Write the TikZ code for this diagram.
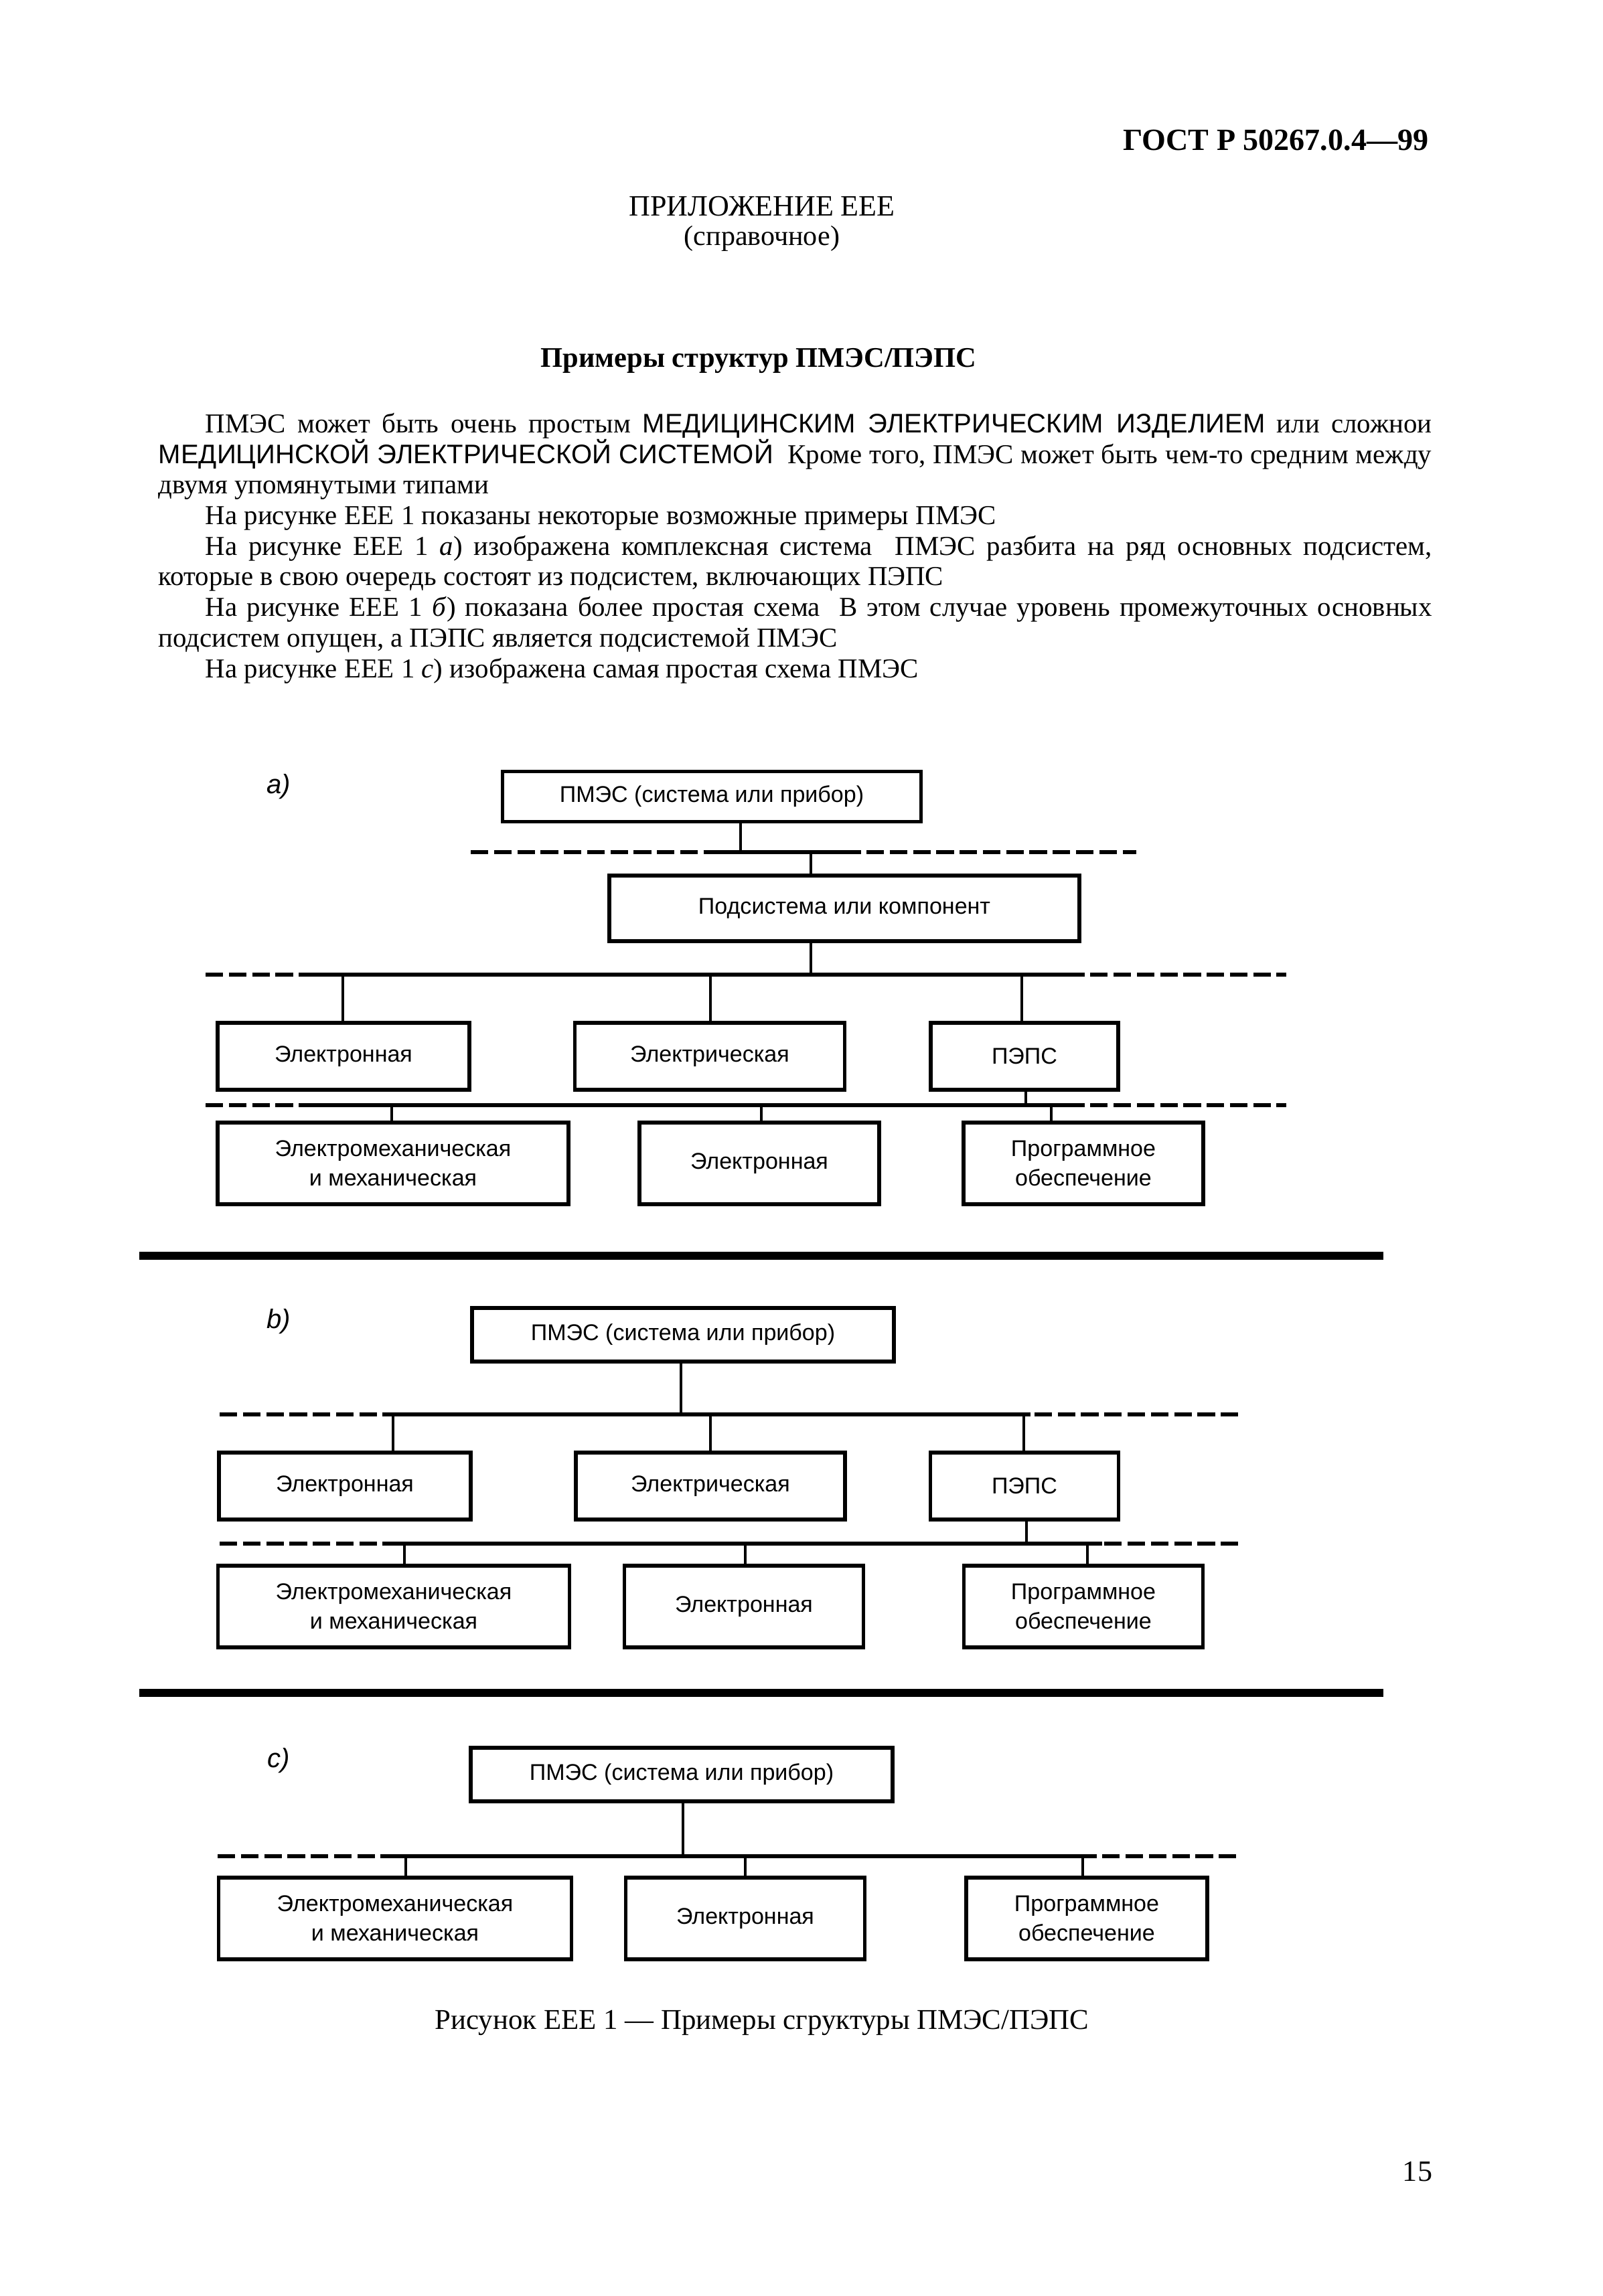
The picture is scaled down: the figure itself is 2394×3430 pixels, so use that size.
\documentclass[tikz,border=0pt]{standalone}
\usepackage{fontspec}
\setmainfont{Liberation Serif}
\setsansfont{Liberation Sans}
\newcommand{\PX}{0.08772mm}
\newcommand{\capsf}[1]{{\sffamily\fontsize{10}{12}\selectfont #1}}
\tikzset{
  box/.style={draw, line width=1.4pt, inner sep=0pt, align=center,
    font=\sffamily\fontsize{8.5}{11}\selectfont},
  sz/.style 2 args={minimum width={#1*\PX}, minimum height={#2*\PX}},
  conn/.style={line width=1.1pt},
  busd/.style={line width=1.6pt, dash pattern=on 2.3mm off 0.75mm},
  buss/.style={line width=1.6pt},
  sep/.style={line width=2.8pt},
  body/.style={inner sep=0pt, font=\fontsize{10.2}{12.6}\selectfont},
  lbl/.style={inner sep=0pt, font=\sffamily\itshape\fontsize{10}{12}\selectfont}
}
\begin{document}
\begin{tikzpicture}[x=0.08772mm, y=-0.08772mm]
\fill[white] (0,0) rectangle (2394,3430);
\useasboundingbox (0,0) rectangle (2394,3430);

% header texts
\node[anchor=base east, inner sep=0pt, font=\bfseries\fontsize{11.5}{14}\selectfont] (hdr) at (2134,224) {ГОСТ Р 50267.0.4—99};
\node[anchor=base, inner sep=0pt, font=\fontsize{11}{13}\selectfont] (app) at (1138,322) {ПРИЛОЖЕНИЕ ЕЕЕ};
\node[anchor=base, inner sep=0pt, font=\fontsize{10.5}{13}\selectfont] (ref) at (1138,366) {(справочное)};
\node[anchor=base, inner sep=0pt, font=\bfseries\fontsize{10.6}{13}\selectfont] (ttl) at (1133,548) {Примеры структур ПМЭС/ПЭПС};

% paragraph
\node[body, anchor=base west] (l1) at (306,646) {\makebox[160.7mm][s]{ПМЭС может быть очень простым \capsf{МЕДИЦИНСКИМ ЭЛЕКТРИЧЕСКИМ ИЗДЕЛИЕМ} или сложнои}};
\node[body, anchor=base west] (l2) at (236,692) {\makebox[166.8mm][s]{\capsf{МЕДИЦИНСКОЙ ЭЛЕКТРИЧЕСКОЙ СИСТЕМОЙ}\ \ Кроме того, ПМЭС может быть чем-то средним между}};
\node[body, anchor=base west] (l3) at (236,737) {двумя упомянутыми типами};
\node[body, anchor=base west] (l4) at (306,783) {На рисунке ЕЕЕ 1 показаны некоторые возможные примеры ПМЭС};
\node[body, anchor=base west] (l5) at (306,829) {\makebox[160.7mm][s]{На рисунке ЕЕЕ 1 \textit{а}) изображена комплексная система\ \ ПМЭС разбита на ряд основных подсистем,}};
\node[body, anchor=base west] (l6) at (236,874) {которые в свою очередь состоят из подсистем, включающих ПЭПС};
\node[body, anchor=base west] (l7) at (306,920) {\makebox[160.7mm][s]{На рисунке ЕЕЕ 1 \textit{б}) показана более простая схема\ \ В этом случае уровень промежуточных основных}};
\node[body, anchor=base west] (l8) at (236,966) {подсистем опущен, а ПЭПС является подсистемой ПМЭС};
\node[body, anchor=base west] (l9) at (306,1012) {На рисунке ЕЕЕ 1 \textit{с}) изображена самая простая схема ПМЭС};

% ---------------- diagram a ----------------
\node[lbl] (la) at (416,1175) {a)};
\node[box, sz={625}{75}] (aP) at (1063,1190) {ПМЭС (система или прибор)};
\node[box, sz={702}{98}] (aS) at (1261,1357) {Подсистема или компонент};
\node[box, sz={376}{100}] (aE1) at (513,1578) {Электронная};
\node[box, sz={403}{100}] (aE2) at (1060,1578) {Электрическая};
\node[box, sz={280}{100}] (aPE) at (1530,1578) {ПЭПС};
\node[box, sz={524}{122}] (aM) at (587,1738) {Электромеханическая\\и механическая};
\node[box, sz={358}{122}] (aEl) at (1134,1738) {Электронная};
\node[box, sz={358}{122}] (aPO) at (1618,1738) {Программное\\обеспечение};

\coordinate (a1L) at (703,1273); \coordinate (a1R) at (1697,1273);
\coordinate (a1SL) at (1055,1273); \coordinate (a1SR) at (1267,1273);
\draw[busd] (a1L) -- (a1R);
\draw[buss] (a1SL) -- (a1SR);
\coordinate (a1u) at (1106,1273); \coordinate (a1d) at (1211,1273);
\draw[conn] (aP.south -| a1u) -- (a1u);
\draw[conn] (a1d) -- (a1d |- aS.north);

\coordinate (a2L) at (307,1456); \coordinate (a2R) at (1921,1456);
\coordinate (a2SL) at (451,1456); \coordinate (a2SR) at (1600,1456);
\draw[busd] (a2L) -- (a2R);
\draw[buss] (a2SL) -- (a2SR);
\coordinate (a2u) at (1211,1456);
\coordinate (a2d1) at (512,1456); \coordinate (a2d2) at (1061,1456); \coordinate (a2d3) at (1526,1456);
\draw[conn] (aS.south -| a2u) -- (a2u);
\draw[conn] (a2d1) -- (a2d1 |- aE1.north);
\draw[conn] (a2d2) -- (a2d2 |- aE2.north);
\draw[conn] (a2d3) -- (a2d3 |- aPE.north);

\coordinate (a3L) at (307,1651); \coordinate (a3R) at (1921,1651);
\coordinate (a3SL) at (451,1651); \coordinate (a3SR) at (1600,1651);
\draw[busd] (a3L) -- (a3R);
\draw[buss] (a3SL) -- (a3SR);
\coordinate (a3u) at (1532,1651);
\coordinate (a3d1) at (585,1651); \coordinate (a3d2) at (1137,1651); \coordinate (a3d3) at (1570,1651);
\draw[conn] (aPE.south -| a3u) -- (a3u);
\draw[conn] (a3d1) -- (a3d1 |- aM.north);
\draw[conn] (a3d2) -- (a3d2 |- aEl.north);
\draw[conn] (a3d3) -- (a3d3 |- aPO.north);

% separator 1
\coordinate (s1L) at (208,1876); \coordinate (s1R) at (2066,1876);
\draw[sep] (s1L) -- (s1R);

% ---------------- diagram b ----------------
\node[lbl] (lb) at (416,1974) {b)};
\node[box, sz={630}{80}] (bP) at (1020,1994) {ПМЭС (система или прибор)};
\node[box, sz={376}{100}] (bE1) at (515,2220) {Электронная};
\node[box, sz={402}{100}] (bE2) at (1061,2220) {Электрическая};
\node[box, sz={281}{100}] (bPE) at (1530,2220) {ПЭПС};
\node[box, sz={525}{122}] (bM) at (588,2400) {Электромеханическая\\и механическая};
\node[box, sz={357}{122}] (bEl) at (1111,2400) {Электронная};
\node[box, sz={357}{122}] (bPO) at (1618,2400) {Программное\\обеспечение};

\coordinate (b1L) at (328,2113); \coordinate (b1R) at (1851,2113);
\coordinate (b1SL) at (571,2113); \coordinate (b1SR) at (1539,2113);
\draw[busd] (b1L) -- (b1R);
\draw[buss] (b1SL) -- (b1SR);
\coordinate (b1u) at (1017,2113);
\coordinate (b1d1) at (587,2113); \coordinate (b1d2) at (1061,2113); \coordinate (b1d3) at (1529,2113);
\draw[conn] (bP.south -| b1u) -- (b1u);
\draw[conn] (b1d1) -- (b1d1 |- bE1.north);
\draw[conn] (b1d2) -- (b1d2 |- bE2.north);
\draw[conn] (b1d3) -- (b1d3 |- bPE.north);

\coordinate (b2L) at (328,2306); \coordinate (b2R) at (1851,2306);
\coordinate (b2SL) at (573,2306); \coordinate (b2SR) at (1646,2306);
\draw[busd] (b2L) -- (b2R);
\draw[buss] (b2SL) -- (b2SR);
\coordinate (b2u) at (1533,2306);
\coordinate (b2d1) at (604,2306); \coordinate (b2d2) at (1113,2306); \coordinate (b2d3) at (1624,2306);
\draw[conn] (bPE.south -| b2u) -- (b2u);
\draw[conn] (b2d1) -- (b2d1 |- bM.north);
\draw[conn] (b2d2) -- (b2d2 |- bEl.north);
\draw[conn] (b2d3) -- (b2d3 |- bPO.north);

% separator 2
\coordinate (s2L) at (208,2529); \coordinate (s2R) at (2066,2529);
\draw[sep] (s2L) -- (s2R);

% ---------------- diagram c ----------------
\node[lbl] (lc) at (416,2630) {c)};
\node[box, sz={630}{80}] (cP) at (1018,2651) {ПМЭС (система или прибор)};
\node[box, sz={527}{122}] (cM) at (590,2866) {Электромеханическая\\и механическая};
\node[box, sz={357}{122}] (cEl) at (1113,2866) {Электронная};
\node[box, sz={360}{122}] (cPO) at (1623,2866) {Программное\\обеспечение};

\coordinate (c1L) at (325,2773); \coordinate (c1R) at (1849,2773);
\coordinate (c1SL) at (571,2773); \coordinate (c1SR) at (1638,2773);
\draw[busd] (c1L) -- (c1R);
\draw[buss] (c1SL) -- (c1SR);
\coordinate (c1u) at (1020,2773);
\coordinate (c1d1) at (606,2773); \coordinate (c1d2) at (1113,2773); \coordinate (c1d3) at (1617,2773);
\draw[conn] (cP.south -| c1u) -- (c1u);
\draw[conn] (c1d1) -- (c1d1 |- cM.north);
\draw[conn] (c1d2) -- (c1d2 |- cEl.north);
\draw[conn] (c1d3) -- (c1d3 |- cPO.north);

% caption and page number
\node[anchor=base, inner sep=0pt, font=\fontsize{10.7}{13}\selectfont] (cap) at (1138,3031) {Рисунок ЕЕЕ 1 — Примеры сгруктуры ПМЭС/ПЭПС};
\node[anchor=base, inner sep=0pt, font=\fontsize{11}{13}\selectfont] (pg) at (2117,3258) {15};
\end{tikzpicture}
\end{document}
